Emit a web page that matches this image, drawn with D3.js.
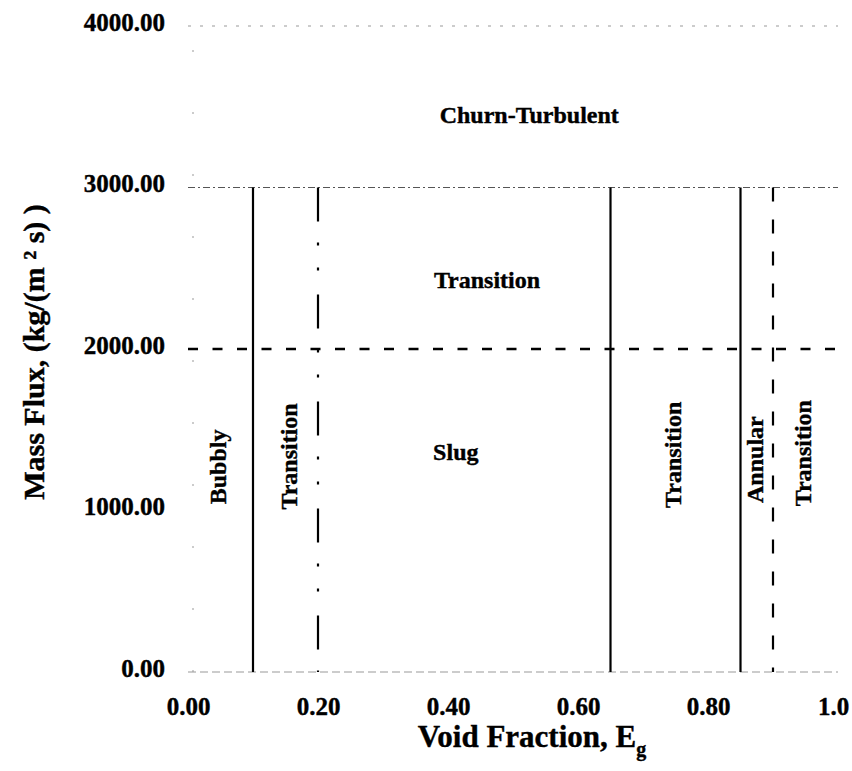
<!DOCTYPE html>
<html>
<head>
<meta charset="utf-8">
<script src="https://cdn.jsdelivr.net/npm/d3@7/dist/d3.min.js"></script>
<style>
  body { margin: 0; background: #fff; }
  text { font-family: "Liberation Serif", "Times New Roman", serif; font-weight: bold; fill: #000; stroke: #000; stroke-width: 0.4px; }
</style>
</head>
<body>
<div id="chart"></div>
<script>
var width = 852, height = 771;

// axes
var xTicks = [0, 0.2, 0.4, 0.6, 0.8, 1.0],
    xTickLabels = ["0.00", "0.20", "0.40", "0.60", "0.80", "1.0"],
    yTicks = [0, 1000, 2000, 3000, 4000],
    yTickLabels = ["0.00", "1000.00", "2000.00", "3000.00", "4000.00"];

// regime boundaries (void fraction), all running from 0 up to 3000
var boundaryX = [0.1, 0.2, 0.65, 0.85, 0.9],
    boundaryStyle = ["solid", "dashdot", "solid", "solid", "dashed"],
    boundaryTop = 3000;

// mass flux split between the two rows of regimes
var fluxSplit = 2000;
// faint reference lines
var faintY = [0, 3000, 4000];

// regime names
var regionNames = ["Churn-Turbulent", "Transition", "Slug", "Bubbly", "Transition", "Transition", "Annular", "Transition"],
    regionX = [0.525, 0.46, 0.412, 0.046, 0.154, 0.745, 0.871, 0.945],
    regionY = [3450, 2430, 1365, 1270, 1335, 1345, 1315, 1355],
    regionRotated = [false, false, false, true, true, true, true, true];

var x = d3.scaleLinear().domain([0, 1]).range([188, 838]);
var y = d3.scaleLinear().domain([0, 4000]).range([672, 26]);

var svg = d3.select("#chart").append("svg")
    .attr("width", width)
    .attr("height", height);

// faint scanned-looking grid lines
svg.selectAll(".faint")
    .data(faintY)
    .enter().append("line")
      .attr("class", "faint")
      .attr("x1", x(0))
      .attr("x2", x(1))
      .attr("y1", function(d) { return y(d); })
      .attr("y2", function(d) { return y(d); })
      .style("stroke", function(d) { return d == 3000 ? "#555" : "#999"; })
      .style("stroke-width", 1.2)
      .style("stroke-dasharray", function(d) { return d == 3000 ? "7,3,2,3" : (d == 0 ? "8,4" : "3,9"); });

// left axis, barely visible
svg.append("line")
    .attr("x1", x(0) + 5).attr("x2", x(0) + 5)
    .attr("y1", y(0)).attr("y2", y(4000))
    .style("stroke", "#999")
    .style("stroke-dasharray", "2,60");

// 2000 split line
svg.append("line")
    .attr("x1", x(0))
    .attr("x2", x(1))
    .attr("y1", y(fluxSplit))
    .attr("y2", y(fluxSplit))
    .style("stroke", "#000")
    .style("stroke-width", 2.5)
    .style("stroke-dasharray", "10,14.5");

var dashes = { solid: null, dashdot: "34,21,3,22,3,24", dashed: "14,18" };

svg.selectAll(".boundary")
    .data(boundaryX)
    .enter().append("line")
      .attr("class", "boundary")
      .attr("x1", function(d) { return x(d); })
      .attr("x2", function(d) { return x(d); })
      .attr("y1", y(boundaryTop))
      .attr("y2", y(0))
      .style("stroke", "#000")
      .style("stroke-width", 2.2)
      .style("stroke-dasharray", function(d, i) { return dashes[boundaryStyle[i]]; });

// tick labels
var xAxis = d3.axisBottom(x)
    .tickValues(xTicks)
    .tickFormat(function(d, i) { return xTickLabels[i]; })
    .tickSize(0)
    .tickPadding(25);

var yAxis = d3.axisLeft(y)
    .tickValues(yTicks)
    .tickFormat(function(d, i) { return yTickLabels[i]; })
    .tickSize(0)
    .tickPadding(23);

var gx = svg.append("g").attr("transform", "translate(0," + y(0) + ")").call(xAxis);
var gy = svg.append("g").attr("transform", "translate(" + x(0) + ",0)").call(yAxis);
gx.select(".domain").remove();
gy.select(".domain").remove();
gx.selectAll("text").style("font-size", "25px").style("font-family", null)
    .attr("dx", function(d, i) { return i == xTicks.length - 1 ? -5 : 0; });
gy.selectAll("text").style("font-size", "25px").style("font-family", null).attr("dy", "0.17em");
svg.selectAll(".tick text").attr("fill", "#000");

// region labels
svg.selectAll(".region")
    .data(regionNames)
    .enter().append("text")
      .attr("class", "region")
      .attr("transform", function(d, i) {
        return "translate(" + x(regionX[i]) + "," + y(regionY[i]) + ")" + (regionRotated[i] ? " rotate(-90)" : "");
      })
      .attr("dy", "0.35em")
      .style("text-anchor", "middle")
      .style("font-size", "24px")
      .text(function(d) { return d; });

// axis titles
var xt = svg.append("text")
    .attr("x", 532)
    .attr("y", 747)
    .style("text-anchor", "middle")
    .style("font-size", "31px");
xt.append("tspan").text("Void Fraction, E");
xt.append("tspan").attr("dy", 9).style("font-size", "20px").text("g");

svg.append("text")
    .attr("transform", "translate(33,352) rotate(-90)")
    .attr("dy", "0.35em")
    .style("text-anchor", "middle")
    .style("font-size", "30px")
    .text("Mass Flux, (kg/(m \u00b2 s) )");
</script>
</body>
</html>
